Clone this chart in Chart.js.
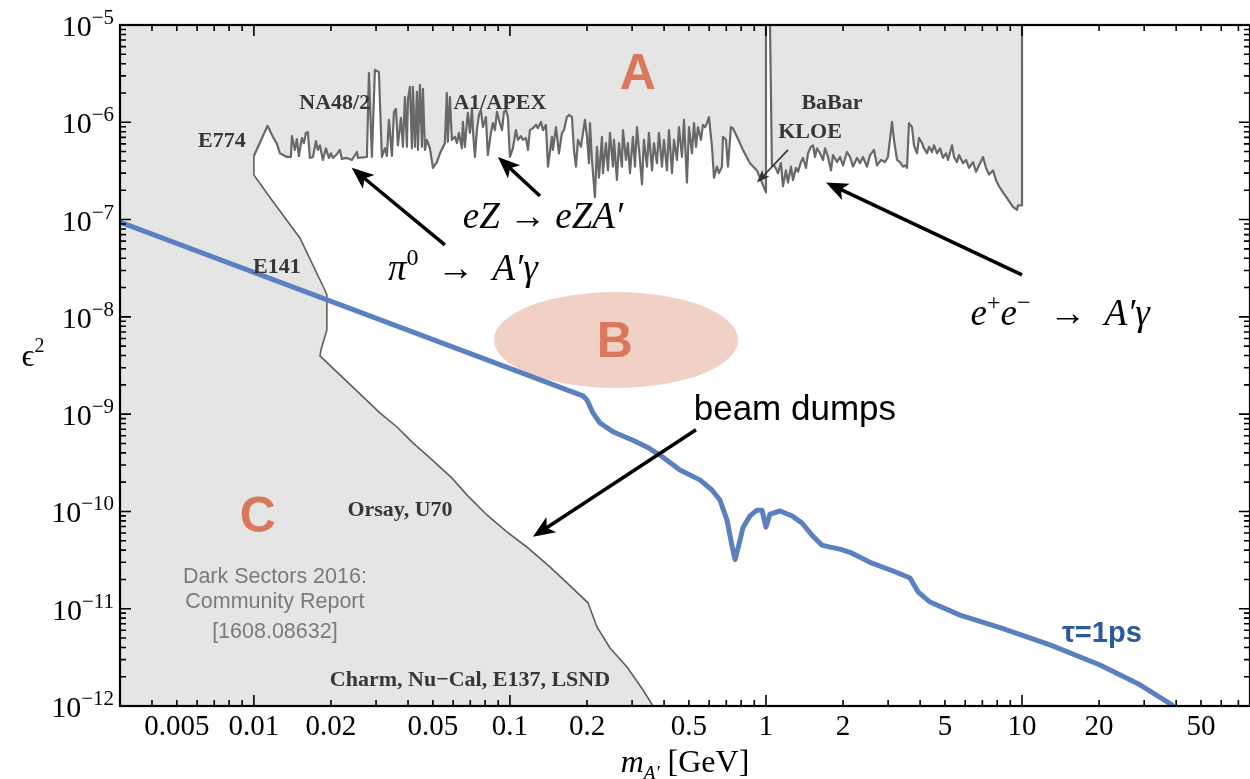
<!DOCTYPE html>
<html>
<head>
<meta charset="utf-8">
<script src="https://cdn.jsdelivr.net/npm/chart.js@4.4.1/dist/chart.umd.min.js"></script>
<style>
  body { margin: 0; background: #fff; }
  canvas { display: block; }
</style>
</head>
<body>
<canvas id="plot" width="1250" height="779"></canvas>
<script>
// axis limits
const X_MIN = 0.003, X_MAX = 77.7;
const Y_MIN = 1e-12, Y_MAX = 1e-5;
const xTickLabels = [0.005, 0.01, 0.02, 0.05, 0.1, 0.2, 0.5, 1, 2, 5, 10, 20, 50];
const yTickExponents = [-12, -11, -10, -9, -8, -7, -6, -5];

// upper edge of the excluded region, [mass GeV, eps^2]
const e774Edge = [[0.0100,4.5e-7],[0.01131,9.2e-7],[0.01186,7.1e-7],[0.0123,6.0e-7],[0.01264,4.8e-7],[0.01346,4.4e-7],[0.01395,4.4e-7]];
const na48Edge = [[0.01408,7.2e-7],[0.01446,5.2e-7],[0.01472,6.7e-7],[0.01499,4.5e-7],[0.0154,6.9e-7],[0.01568,6.1e-7],[0.01597,7.8e-7],[0.01625,7.9e-7],[0.01655,4.3e-7],[0.01701,4.4e-7],[0.01747,6.4e-7],[0.01778,5.2e-7],[0.01811,5.8e-7],[0.0186,4.1e-7],[0.01911,5.4e-7],[0.01963,4.3e-7],[0.0200,4.8e-7],[0.02036,4.3e-7],[0.0211,4.7e-7],[0.02167,5.2e-7],[0.02207,4.2e-7],[0.02308,4.3e-7],[0.02415,4.1e-7],[0.02526,4.95e-7],[0.02549,4.3e-7],[0.02764,4.4e-7],[0.02814,3.21e-6],[0.0289,4.4e-7],[0.02969,3.45e-6],[0.03078,3.29e-6],[0.03162,4.4e-7],[0.03249,5.4e-7],[0.03308,4.5e-7],[0.03369,1.06e-6],[0.0346,4.5e-7],[0.03524,1.28e-6],[0.03588,1.37e-6],[0.03652,5.8e-7],[0.03752,1.11e-6],[0.0382,5.6e-7],[0.0389,1.82e-6],[0.0396,5.6e-7],[0.03996,1.69e-6],[0.04068,2.31e-6],[0.04142,5.4e-7],[0.0418,2.31e-6],[0.04256,5.6e-7],[0.04334,2.05e-6],[0.04373,5.2e-7],[0.04452,2.42e-6],[0.04532,5.6e-7],[0.04573,2.2e-6],[0.04656,5.2e-7],[0.0474,6.6e-7],[0.0487,5.4e-7],[0.05004,3.4e-7],[0.05186,3.9e-7],[0.0533,4.8e-7]];
const a1Edge = [[0.0557,6.1e-7],[0.0567,2.0e-6],[0.0572,6.3e-7],[0.0583,1.82e-6],[0.0593,6.6e-7],[0.0610,7.1e-7],[0.0621,6.1e-7],[0.0632,7.8e-7],[0.0649,5.4e-7],[0.0655,1.01e-6],[0.0667,5.6e-7],[0.0679,9.8e-7],[0.0685,1.25e-6],[0.0698,7.8e-7],[0.0711,1.4e-6],[0.0717,8.3e-7],[0.0730,4.4e-7],[0.0743,8.3e-7],[0.0757,1.19e-6],[0.0770,1.34e-6],[0.0784,8.9e-7],[0.0806,1.13e-6],[0.0820,4.6e-7],[0.0843,7.8e-7],[0.0858,9.8e-7],[0.0874,8.3e-7],[0.0890,1.28e-6],[0.0906,1.06e-6],[0.0931,8.3e-7],[0.0948,1.28e-6],[0.0965,1.34e-6],[0.0982,1.13e-6],[0.1000,4.4e-7],[0.1027,5.4e-7],[0.1055,8.3e-7],[0.1075,6.6e-7],[0.1104,7.2e-7],[0.1124,6.6e-7],[0.1155,6.9e-7],[0.1176,5.2e-7],[0.1197,8.3e-7],[0.1230,8.7e-7],[0.1264,9.4e-7],[0.1286,8.7e-7],[0.1322,1.01e-6],[0.1346,8.3e-7],[0.1382,9.4e-7],[0.1408,3.5e-7],[0.1459,7.1e-7],[0.1472,5.2e-7],[0.1513,8.9e-7],[0.1554,4.8e-7],[0.1597,7.8e-7],[0.1625,8.3e-7],[0.1670,1.13e-6],[0.1701,1.19e-6],[0.1747,1.13e-6],[0.1778,5.2e-7],[0.1811,3.5e-7],[0.1844,6.6e-7],[0.1894,5.6e-7],[0.1929,7.8e-7],[0.1963,1.06e-6],[0.2000,7.1e-7],[0.2036,3.8e-7]];
const denseEdge = [[0.2054,9.8e-7],[0.2091,4.1e-7],[0.2148,1.7e-7],[0.2187,5.6e-7],[0.2227,2.7e-7],[0.2288,7.1e-7],[0.2308,3.0e-7],[0.2371,6.1e-7],[0.2415,3.2e-7],[0.2459,7.8e-7],[0.2526,3.5e-7],[0.2549,6.6e-7],[0.2618,2.55e-7],[0.2666,6.1e-7],[0.2738,3.5e-7],[0.2763,8.3e-7],[0.2839,4.1e-7],[0.2890,6.1e-7],[0.2943,3.0e-7],[0.3023,7.1e-7],[0.3078,3.5e-7],[0.3134,8.9e-7],[0.3220,4.1e-7],[0.3279,2.3e-7],[0.3338,6.6e-7],[0.3430,3.5e-7],[0.3491,7.8e-7],[0.3588,3.2e-7],[0.3652,6.1e-7],[0.3752,3.8e-7],[0.3820,7.8e-7],[0.3925,3.5e-7],[0.3996,6.6e-7],[0.4105,3.2e-7],[0.4180,8.3e-7],[0.4295,3.0e-7],[0.4373,6.6e-7],[0.4492,4.1e-7],[0.4573,8.9e-7],[0.4698,4.4e-7],[0.4784,1.06e-6],[0.4914,2.4e-7],[0.5004,8.9e-7],[0.5141,4.8e-7],[0.5234,9.8e-7],[0.5330,5.6e-7],[0.5426,8.9e-7],[0.5574,6.6e-7],[0.5675,9.4e-7],[0.5778,8.9e-7],[0.5883,9.8e-7],[0.5990,1.13e-6],[0.6154,5.6e-7],[0.6266,2.7e-7],[0.6437,3.5e-7],[0.6553,3.0e-7],[0.6732,3.5e-7],[0.6792,7.1e-7],[0.6978,6.6e-7],[0.7105,3.5e-7],[0.7299,8.9e-7],[0.7431,8.7e-7],[0.7704,7.1e-7],[0.8131,5.2e-7],[0.8660,3.8e-7],[0.9222,3.2e-7],[0.9647,2.4e-7],[1.000,1.9e-7]];
const kloeBabarEdge = [[1.000,1e-5],[1.037,1e-5],[1.055,3.6e-7],[1.084,3.5e-7],[1.114,3.0e-7],[1.144,3.8e-7],[1.165,2.2e-7],[1.197,3.2e-7],[1.219,2.4e-7],[1.252,3.5e-7],[1.275,2.55e-7],[1.310,3.4e-7],[1.334,3.1e-7],[1.370,3.9e-7],[1.395,4.3e-7],[1.433,3.4e-7],[1.459,4.8e-7],[1.499,5.6e-7],[1.526,5.8e-7],[1.554,4.4e-7],[1.582,5.4e-7],[1.625,4.8e-7],[1.670,4.1e-7],[1.701,5.4e-7],[1.747,4.4e-7],[1.795,3.2e-7],[1.827,4.6e-7],[1.894,3.9e-7],[1.946,4.4e-7],[2.000,3.6e-7],[2.072,4.95e-7],[2.129,4.4e-7],[2.187,3.5e-7],[2.267,4.3e-7],[2.329,3.8e-7],[2.392,4.4e-7],[2.480,3.5e-7],[2.549,4.6e-7],[2.641,5.2e-7],[2.715,3.6e-7],[2.814,4.1e-7],[2.917,3.9e-7],[2.996,4.4e-7],[3.106,1.01e-6],[3.162,6.6e-7],[3.249,4.1e-7],[3.338,3.9e-7],[3.430,3.5e-7],[3.491,3.6e-7],[3.555,3.4e-7],[3.619,9.8e-7],[3.718,8.9e-7],[3.786,5.8e-7],[3.890,4.8e-7],[3.960,6.9e-7],[4.068,6.1e-7],[4.142,5.4e-7],[4.256,4.8e-7],[4.334,5.6e-7],[4.452,4.95e-7],[4.532,5.8e-7],[4.656,4.8e-7],[4.784,5.4e-7],[4.914,4.3e-7],[5.048,4.8e-7],[5.141,4.1e-7],[5.330,5.8e-7],[5.426,4.4e-7],[5.574,3.9e-7],[5.675,4.6e-7],[5.883,3.8e-7],[6.043,4.1e-7],[6.209,3.4e-7],[6.437,3.9e-7],[6.612,3.1e-7],[6.792,3.6e-7],[7.041,4.4e-7],[7.234,3.4e-7],[7.431,2.9e-7],[7.704,3.2e-7],[7.914,2.55e-7],[8.131,2.2e-7],[8.428,1.9e-7],[8.817,1.6e-7],[9.222,1.35e-7],[9.561,1.26e-7],[9.647,1.4e-7],[10.0,1.4e-7],[10.0,1e-5]];

// beam dump limit (E774, E141, Orsay/U70, Charm/Nu-Cal/E137/LSND)
const beamDumpEdge = [[0.0100,4.5e-7],[0.0100,2.87e-7],[0.01175,1.59e-7],[0.01513,6.47e-8],[0.01892,1.89e-8],[0.01928,1.68e-8],[0.01928,7.33e-9],[0.01828,4.57e-9],[0.01812,3.97e-9],[0.03105,1.03e-9],[0.0362,7.38e-10],[0.0418,5.06e-10],[0.0487,3.55e-10],[0.0593,2.21e-10],[0.0679,1.48e-10],[0.0813,9.2e-11],[0.0973,6.15e-11],[0.1164,4.31e-11],[0.1432,2.69e-11],[0.167,1.84e-11],[0.2018,1.15e-11],[0.2188,6.5e-12],[0.246,3.95e-12],[0.2866,2.52e-12],[0.331,1.46e-12],[0.362,1.0e-12]];

// lifetime contour tau = 1 ps
const tauOnePs = [[0.003,9.4e-8],[0.1928,1.54e-9],[0.2,1.40e-9],[0.211,1.03e-9],[0.2248,8.1e-10],[0.2525,6.6e-10],[0.302,5.4e-10],[0.3426,4.6e-10],[0.3853,3.8e-10],[0.4613,2.67e-10],[0.552,2.11e-10],[0.615,1.66e-10],[0.661,1.31e-10],[0.704,8.2e-11],[0.736,4.5e-11],[0.757,3.2e-11],[0.778,4.2e-11],[0.813,6.8e-11],[0.866,9.0e-11],[0.922,1.03e-10],[0.965,1.03e-10],[1.0,6.9e-11],[1.037,9.4e-11],[1.134,1.01e-10],[1.264,9.0e-11],[1.382,7.6e-11],[1.513,5.7e-11],[1.655,4.5e-11],[1.778,4.3e-11],[1.946,4.1e-11],[2.129,3.8e-11],[2.549,3.0e-11],[3.191,2.4e-11],[3.652,2.07e-11],[3.925,1.49e-11],[4.373,1.17e-11],[5.724,8.6e-12],[8.204,6.4e-12],[12.87,4.25e-12],[20.17,2.64e-12],[28.9,1.65e-12],[38.5,1.03e-12]];

// text and arrows, placed in data coordinates
const expLabels = [['E774',0.0075,6.3e-7],['NA48/2',0.0207,1.58e-6],['A1/APEX',0.0914,1.58e-6],['BaBar',1.811,1.58e-6],['KLOE',1.486,7.8e-7],['E141',0.0123,3.2e-8],['Orsay, U70',0.0372,1.03e-10],['Charm, Nu\u2212Cal, E137, LSND',0.0698,1.85e-12]];
const regionLetters = [['A',0.316,3.06e-6],['B',0.257,5.4e-9],['C',0.01036,8.6e-11]];
const ellipseB = { xSpan: [0.0866, 0.778], ySpan: [1.86e-9, 1.8e-8] };
const reportLines = [['Dark Sectors 2016:',2.1e-11],['Community Report',1.17e-11],['[1608.08632]',5.8e-12]];
const reportX = 0.01208;
const bigArrows = [[0.0557,5.5e-8,0.0241,3.4e-7],[0.131,1.75e-7,0.0898,4.4e-7],[10.0,2.7e-8,1.715,2.4e-7],[0.533,6.9e-10,0.123,5.5e-11]];
const kloeArrow = [1.219,5.2e-7,0.922,2.4e-7];

const SERIF = "'Liberation Serif','DejaVu Serif',serif";
const SANS = "'Liberation Sans',Arial,sans-serif";
const GRAY = '#e5e5e5';
const SALMON = '#d9785c';

const topEdge = [].concat(e774Edge, na48Edge, a1Edge, denseEdge, kloeBabarEdge);
const allowedRegion = topEdge.concat([[X_MAX, Y_MAX], [X_MAX, Y_MIN]], beamDumpEdge.slice().reverse());
const toXY = arr => arr.map(p => ({ x: p[0], y: p[1] }));

function drawRuns(ctx, parts, x, y, align) {
  let w = 0;
  parts.forEach(p => { ctx.font = p[1]; w += ctx.measureText(p[0]).width; });
  let cx = align === 'center' ? x - w / 2 : (align === 'right' ? x - w : x);
  ctx.textAlign = 'left';
  ctx.textBaseline = 'alphabetic';
  parts.forEach(p => {
    ctx.font = p[1];
    ctx.fillText(p[0], cx, y + (p[2] || 0));
    cx += ctx.measureText(p[0]).width;
  });
}

function drawArrow(ctx, x1, y1, x2, y2, lw, hl, hw, color) {
  const a = Math.atan2(y2 - y1, x2 - x1);
  ctx.save();
  ctx.strokeStyle = color; ctx.fillStyle = color; ctx.lineWidth = lw;
  ctx.beginPath();
  ctx.moveTo(x1, y1);
  ctx.lineTo(x2 - Math.cos(a) * hl * 0.6, y2 - Math.sin(a) * hl * 0.6);
  ctx.stroke();
  ctx.translate(x2, y2);
  ctx.rotate(a);
  ctx.beginPath();
  ctx.moveTo(0, 0);
  ctx.lineTo(-hl, -hw);
  ctx.lineTo(-hl * 0.75, 0);
  ctx.lineTo(-hl, hw);
  ctx.closePath();
  ctx.fill();
  ctx.restore();
}

const decorations = {
  id: 'decorations',
  beforeDatasetsDraw(chart) {
    const a = chart.chartArea, ctx = chart.ctx;
    ctx.save();
    ctx.fillStyle = GRAY;
    ctx.fillRect(a.left, a.top, a.right - a.left, a.bottom - a.top);
    ctx.restore();
  },
  beforeDatasetDraw(chart, args) {
    // ellipse "B" goes under the lifetime line
    if (args.meta.label !== 'tau=1ps') return;
    const xs = chart.scales.x, ys = chart.scales.y, ctx = chart.ctx;
    const l = xs.getPixelForValue(ellipseB.xSpan[0]), r = xs.getPixelForValue(ellipseB.xSpan[1]);
    const b = ys.getPixelForValue(ellipseB.ySpan[0]), t = ys.getPixelForValue(ellipseB.ySpan[1]);
    ctx.save();
    ctx.fillStyle = '#f1d0c6';
    ctx.beginPath();
    ctx.ellipse((l + r) / 2, (t + b) / 2, (r - l) / 2, (b - t) / 2, 0, 0, Math.PI * 2);
    ctx.fill();
    ctx.restore();
  },
  afterDatasetsDraw(chart) {
    const xs = chart.scales.x, ys = chart.scales.y, ctx = chart.ctx, a = chart.chartArea;
    const X = v => xs.getPixelForValue(v), Y = v => ys.getPixelForValue(v);
    ctx.save();

    // letters A, B, C
    ctx.fillStyle = SALMON;
    ctx.font = 'bold 50px ' + SANS;
    ctx.textAlign = 'center'; ctx.textBaseline = 'middle';
    regionLetters.forEach(l => ctx.fillText(l[0], X(l[1]), Y(l[2])));

    // experiment names
    ctx.fillStyle = '#363636';
    ctx.font = 'bold 22px ' + SERIF;
    expLabels.forEach(l => ctx.fillText(l[0], X(l[1]), Y(l[2])));

    // community report note
    ctx.fillStyle = '#7a7a7a';
    ctx.font = '21.5px ' + SANS;
    reportLines.forEach(l => ctx.fillText(l[0], X(reportX), Y(l[1])));

    // process labels
    ctx.fillStyle = '#000';
    const it = 'italic 37px ' + SERIF, up = '37px ' + SERIF, sup = '24px ' + SERIF;
    const arr = '\u2002\u2192\u2002';
    drawRuns(ctx, [['eZ', it], [' \u2192 ', up], ['eZA\u2032', it]], X(0.1345), Y(8.2e-8), 'center');
    drawRuns(ctx, [['\u03c0', it], ['0', sup, -15], [arr, up], ['A\u2032\u03b3', it]], X(0.0655), Y(2.4e-8), 'center');
    drawRuns(ctx, [['e', it], ['+', sup, -15], ['e', it], ['\u2212', sup, -15], [arr, up], ['A\u2032\u03b3', it]], X(14.1), Y(8.3e-9), 'center');

    ctx.font = '35px ' + SANS;
    ctx.textAlign = 'center'; ctx.textBaseline = 'middle';
    ctx.fillText('beam dumps', X(1.297), Y(1.1e-9));

    ctx.fillStyle = '#2a5a9e';
    ctx.font = 'bold 29px ' + SANS;
    ctx.fillText('\u03c4=1ps', X(20.5), Y(5.5e-12));

    // arrows
    bigArrows.forEach(r => drawArrow(ctx, X(r[0]), Y(r[1]), X(r[2]), Y(r[3]), 3.5, 22, 9, '#000'));
    drawArrow(ctx, X(kloeArrow[0]), Y(kloeArrow[1]), X(kloeArrow[2]), Y(kloeArrow[3]), 1.6, 13, 5, '#333');

    // frame with inward ticks on all sides
    ctx.strokeStyle = '#000';
    ctx.lineWidth = 1.6;
    ctx.beginPath();
    for (let d = -3; d <= 1; d++) {
      for (let m = 1; m <= 9; m++) {
        const v = m * Math.pow(10, d);
        if (v < X_MIN * 0.999 || v > X_MAX) continue;
        const p = X(v), len = m === 1 ? 11 : 6;
        ctx.moveTo(p, a.bottom); ctx.lineTo(p, a.bottom - len);
        ctx.moveTo(p, a.top); ctx.lineTo(p, a.top + len);
      }
    }
    for (let d = -12; d <= -5; d++) {
      for (let m = 1; m <= 9; m++) {
        const v = m * Math.pow(10, d);
        if (v > Y_MAX * 1.001) continue;
        const p = Y(v), len = m === 1 ? 11 : 6;
        ctx.moveTo(a.left, p); ctx.lineTo(a.left + len, p);
        ctx.moveTo(a.right, p); ctx.lineTo(a.right - len, p);
      }
    }
    ctx.stroke();
    ctx.lineWidth = 2.2;
    ctx.strokeRect(a.left, a.top, a.right - a.left, a.bottom - a.top);

    // y tick labels 10^n
    ctx.fillStyle = '#000';
    yTickExponents.forEach(e => {
      const p = Y(Math.pow(10, e));
      drawRuns(ctx, [['10', '30px ' + SERIF], ['\u2212' + (-e), '21px ' + SERIF, -12]], 114, p + 11, 'right');
    });

    // axis titles
    drawRuns(ctx, [['m', 'italic 32px ' + SERIF], ['A\u2032', 'italic 19px ' + SERIF, 7], [' [GeV]', '32px ' + SERIF]], (a.left + a.right) / 2, 772, 'center');
    drawRuns(ctx, [['\u03f5', '32px ' + SERIF], ['2', '20px ' + SERIF, -14]], 33, (a.top + a.bottom) / 2, 'center');

    ctx.restore();
  }
};

new Chart(document.getElementById('plot').getContext('2d'), {
  type: 'line',
  data: {
    datasets: [
      { label: 'allowed', data: toXY(allowedRegion), fill: 'shape', backgroundColor: '#ffffff',
        borderColor: 'rgba(0,0,0,0)', borderWidth: 0, pointRadius: 0, order: 4 },
      { label: 'beam dumps', data: toXY(beamDumpEdge), borderColor: '#5e5e5e', borderWidth: 1.6,
        pointRadius: 0, fill: false, order: 3 },
      { label: 'visible', data: toXY(topEdge), borderColor: '#686868', borderWidth: 2.2,
        borderJoinStyle: 'round', pointRadius: 0, fill: false, order: 2 },
      { label: 'tau=1ps', data: toXY(tauOnePs), borderColor: '#5b80c0', borderWidth: 5,
        borderJoinStyle: 'round', borderCapStyle: 'round', pointRadius: 0, fill: false, order: 1 }
    ]
  },
  options: {
    responsive: false,
    animation: false,
    events: [],
    layout: { padding: { top: 25, right: 0, bottom: 0, left: 0 } },
    plugins: { legend: { display: false }, tooltip: { enabled: false } },
    scales: {
      x: {
        type: 'logarithmic', min: X_MIN, max: X_MAX, position: 'bottom',
        grid: { display: false, drawTicks: false }, border: { display: false },
        afterBuildTicks: s => { s.ticks = xTickLabels.map(v => ({ value: v })); },
        afterFit: s => { s.height = 73; },
        ticks: { autoSkip: false, maxRotation: 0, padding: 4, color: '#000',
          font: { family: "'Liberation Serif'", size: 29 }, callback: v => String(v) }
      },
      y: {
        type: 'logarithmic', min: Y_MIN, max: Y_MAX,
        grid: { display: false, drawTicks: false }, border: { display: false },
        ticks: { display: false },
        afterFit: s => { s.width = 120; }
      }
    }
  },
  plugins: [decorations]
});
</script>
</body>
</html>
